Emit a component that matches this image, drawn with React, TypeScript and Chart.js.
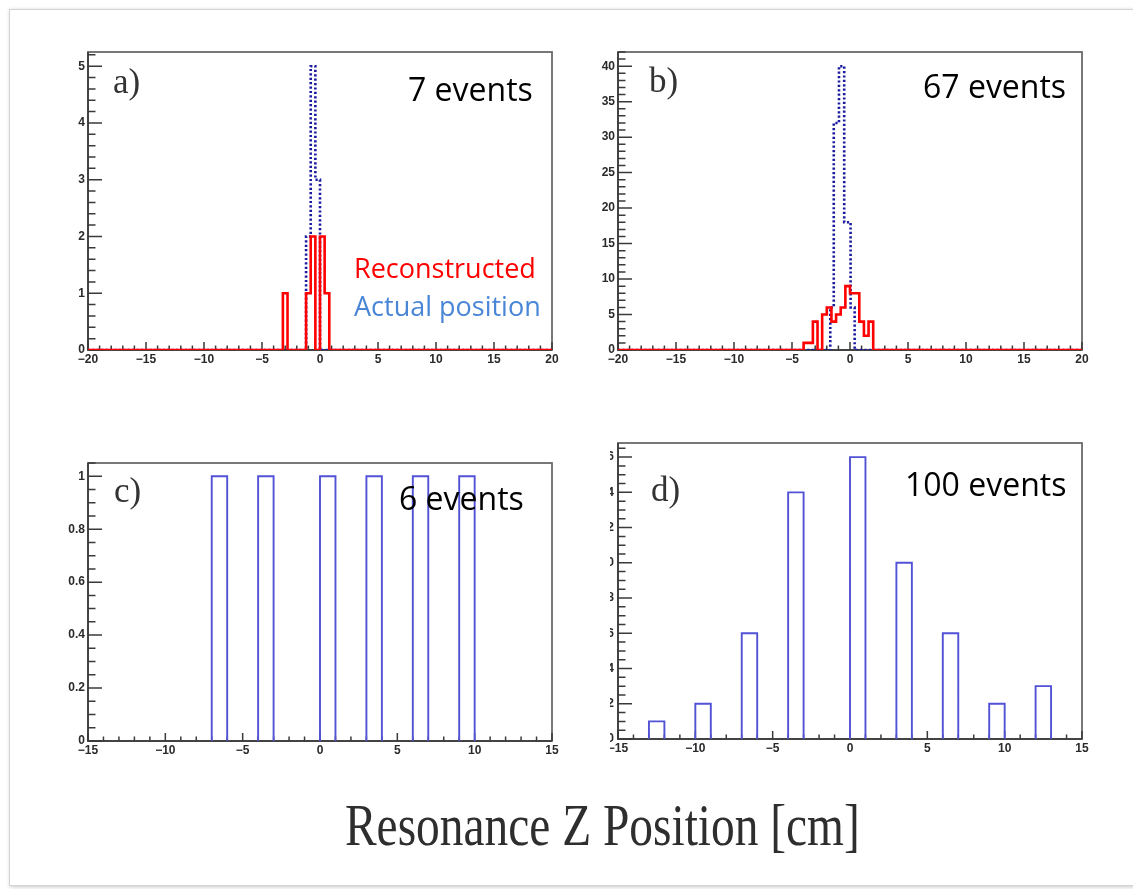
import React, { useEffect, useRef } from 'react';
import { Chart, registerables } from 'chart.js';

Chart.register(...registerables);

// ---------- data ----------
// panel a: reconstructed (red) and actual (blue) positions, bin width 0.4 cm
const redEdgesA = [-3.2, -2.8, -2.4, -2.0, -1.6, -1.2, -0.8, -0.4, 0.0, 0.4, 0.8];
const redCountsA = [1, 0, 0, 0, 0, 1, 2, 0, 2, 1];
const blueEdgesA = [-1.2, -0.8, -0.4, 0.0];
const blueCountsA = [2, 5, 3];

// panel b
const redEdgesB = [-4.0, -3.6, -3.2, -2.8, -2.4, -2.0, -1.6, -1.2, -0.8, -0.4, 0.0, 0.4, 0.8, 1.2, 1.6, 2.0];
const redCountsB = [1, 1, 4, 0, 5, 6, 4, 5, 6, 9, 8, 8, 4, 2, 4];
const blueEdgesB = [-1.7, -1.4, -0.95, -0.5, 0.05, 0.4];
const blueCountsB = [6, 32, 40, 18, 6];

// panel c and d: bin width 1 cm
const binWidthCD = 1;
const binLeftsC = [-7, -4, 0, 3, 6, 9];
const countsC = [1, 1, 1, 1, 1, 1];
const binLeftsD = [-13, -10, -7, -4, 0, 3, 6, 9, 12];
const countsD = [1, 2, 6, 14, 16, 10, 6, 2, 3];

// tick labels
const xTicksAB = [-20, -15, -10, -5, 0, 5, 10, 15, 20];
const xLabelsAB = ['−20', '−15', '−10', '−5', '0', '5', '10', '15', '20'];
const yTicksA = [0, 1, 2, 3, 4, 5];
const yLabelsA = ['0', '1', '2', '3', '4', '5'];
const yTicksB = [0, 5, 10, 15, 20, 25, 30, 35, 40];
const yLabelsB = ['0', '5', '10', '15', '20', '25', '30', '35', '40'];
const xTicksCD = [-15, -10, -5, 0, 5, 10, 15];
const xLabelsCD = ['−15', '−10', '−5', '0', '5', '10', '15'];
const yTicksC = [0, 0.2, 0.4, 0.6, 0.8, 1];
const yLabelsC = ['0', '0.2', '0.4', '0.6', '0.8', '1'];
const yTicksD = [0, 2, 4, 6, 8, 10, 12, 14, 16];
const yLabelsD = ['0', '2', '4', '6', '8', '10', '12', '14', '16'];

// ---------- helpers ----------
function stepOutline(edges: number[], counts: number[], lo: number, hi: number) {
  const pts: { x: number; y: number }[] = [{ x: lo, y: 0 }];
  counts.forEach((c, i) => pts.push({ x: edges[i], y: c }));
  pts.push({ x: edges[edges.length - 1], y: 0 });
  pts.push({ x: hi, y: 0 });
  return pts;
}

function barOutlines(lefts: number[], counts: number[], w: number) {
  const pts: { x: number; y: number | null }[] = [];
  lefts.forEach((l, i) => {
    pts.push({ x: l, y: 0 }, { x: l, y: counts[i] }, { x: l + w, y: counts[i] }, { x: l + w, y: 0 }, { x: l + w, y: null });
  });
  return pts;
}

const rootFrame = {
  id: 'rootFrame',
  beforeDatasetsDraw(chart: any, _args: any, o: any) {
    const { ctx, chartArea: a } = chart;
    const x = chart.scales.x;
    const y = chart.scales.y;
    ctx.save();
    ctx.lineWidth = 1.8;
    ctx.strokeStyle = '#6a6a6a';
    ctx.strokeRect(a.left, a.top, a.right - a.left, a.bottom - a.top);
    ctx.strokeStyle = '#333';
    ctx.lineWidth = 1.5;
    ctx.beginPath();
    ctx.moveTo(a.left, a.top);
    ctx.lineTo(a.left, a.bottom);
    ctx.lineTo(a.right, a.bottom);
    ctx.stroke();
    ctx.lineWidth = 1.5;
    ctx.strokeStyle = '#3a3a3a';
    ctx.beginPath();
    const isMajor = (v: number, list: number[]) => list.some((t) => Math.abs(t - v) < 1e-6);
    const nx = Math.round((x.max - x.min) / o.xMinor);
    for (let i = 0; i <= nx; i++) {
      const v = x.min + i * o.xMinor;
      const px = x.getPixelForValue(v);
      const len = isMajor(v, o.xMajor) ? 8 : 4.5;
      ctx.moveTo(px, a.bottom);
      ctx.lineTo(px, a.bottom - len);
    }
    const ny = Math.floor((y.max - y.min) / o.yMinor + 1e-6);
    for (let i = 0; i <= ny; i++) {
      const v = y.min + i * o.yMinor;
      const py = y.getPixelForValue(v);
      const len = isMajor(v, o.yMajor) ? 14 : 7.5;
      ctx.moveTo(a.left, py);
      ctx.lineTo(a.left + len, py);
    }
    ctx.stroke();
    ctx.restore();
  },
};

type PanelCfg = {
  L: number; T: number; R: number; B: number;
  yw: number; pt: number; pr: number; xh: number; yPad: number;
  xMin: number; xMax: number; yMax: number;
  xTicks: number[]; xLabels: string[]; yTicks: number[]; yLabels: string[];
  xMinor: number; yMinor: number;
  datasets: any[];
};

const tickFont = { family: '"Liberation Sans", Arial, sans-serif', size: 12, weight: 'bold' as const };

function Panel({ cfg }: { cfg: PanelCfg }) {
  const ref = useRef<HTMLCanvasElement | null>(null);
  const w = cfg.R - cfg.L + cfg.yw + cfg.pr;
  const h = cfg.B - cfg.T + cfg.pt + cfg.xh;
  useEffect(() => {
    const chart = new Chart(ref.current as HTMLCanvasElement, {
      type: 'line',
      data: { datasets: cfg.datasets },
      options: {
        animation: false,
        responsive: false,
        maintainAspectRatio: false,
        devicePixelRatio: 1,
        events: [],
        layout: { padding: { top: cfg.pt, right: cfg.pr, left: 0, bottom: 0 } },
        elements: { point: { radius: 0 }, line: { tension: 0 } },
        plugins: {
          legend: { display: false },
          tooltip: { enabled: false },
          rootFrame: { xMajor: cfg.xTicks, yMajor: cfg.yTicks, xMinor: cfg.xMinor, yMinor: cfg.yMinor },
        } as any,
        scales: {
          x: {
            type: 'linear',
            min: cfg.xMin,
            max: cfg.xMax,
            grid: { display: false, drawTicks: false },
            border: { display: false },
            afterFit: (s: any) => { s.height = cfg.xh; s.paddingLeft = 0; s.paddingRight = 0; },
            afterBuildTicks: (s: any) => { s.ticks = cfg.xTicks.map((v) => ({ value: v })); },
            ticks: {
              autoSkip: false, maxRotation: 0, minRotation: 0, padding: 2,
              color: '#2a2a2a', font: tickFont,
              callback: (_v: any, i: number) => cfg.xLabels[i],
            },
          },
          y: {
            type: 'linear',
            min: 0,
            max: cfg.yMax,
            grid: { display: false, drawTicks: false },
            border: { display: false },
            afterFit: (s: any) => { s.width = cfg.yw; s.paddingTop = 0; s.paddingBottom = 0; },
            afterBuildTicks: (s: any) => { s.ticks = cfg.yTicks.map((v) => ({ value: v })); },
            ticks: {
              autoSkip: false, padding: cfg.yPad,
              color: '#2a2a2a', font: tickFont,
              callback: (_v: any, i: number) => cfg.yLabels[i],
            },
          },
        },
      },
      plugins: [rootFrame],
    } as any);
    return () => chart.destroy();
  }, []);
  return (
    <canvas
      ref={ref}
      width={w}
      height={h}
      style={{ position: 'absolute', left: cfg.L - cfg.yw, top: cfg.T - cfg.pt, width: w, height: h }}
    />
  );
}

const redStyle = { borderColor: '#ff0000', borderWidth: 2.6, fill: false, stepped: true, borderJoinStyle: 'miter', borderCapStyle: 'butt' };
const blueDotStyle = { borderColor: '#1a1aa0', borderWidth: 2.6, borderDash: [2.2, 2.2], fill: false, stepped: true, borderJoinStyle: 'miter', borderCapStyle: 'butt' };
const barStyle = { borderColor: '#5252d6', borderWidth: 1.9, fill: false, spanGaps: false, borderJoinStyle: 'miter' };

const panelA: PanelCfg = {
  L: 88, T: 52, R: 552, B: 350, yw: 40, pt: 12, pr: 12, xh: 24, yPad: 3,
  xMin: -20, xMax: 20, yMax: 5.25,
  xTicks: xTicksAB, xLabels: xLabelsAB, yTicks: yTicksA, yLabels: yLabelsA,
  xMinor: 1, yMinor: 0.2,
  datasets: [
    { ...redStyle, data: stepOutline(redEdgesA, redCountsA, -20, 20) },
    { ...blueDotStyle, data: stepOutline(blueEdgesA, blueCountsA, -20, 20) },
  ],
};
const panelB: PanelCfg = {
  L: 618, T: 52, R: 1082, B: 350, yw: 40, pt: 12, pr: 12, xh: 24, yPad: 3,
  xMin: -20, xMax: 20, yMax: 42,
  xTicks: xTicksAB, xLabels: xLabelsAB, yTicks: yTicksB, yLabels: yLabelsB,
  xMinor: 1, yMinor: 1,
  datasets: [
    { ...redStyle, data: stepOutline(redEdgesB, redCountsB, -20, 20) },
    { ...blueDotStyle, data: stepOutline(blueEdgesB, blueCountsB, -20, 20) },
  ],
};
const panelC: PanelCfg = {
  L: 88, T: 463, R: 552, B: 741, yw: 40, pt: 12, pr: 12, xh: 24, yPad: 3,
  xMin: -15, xMax: 15, yMax: 1.05,
  xTicks: xTicksCD, xLabels: xLabelsCD, yTicks: yTicksC, yLabels: yLabelsC,
  xMinor: 1, yMinor: 0.05,
  datasets: [{ ...barStyle, data: barOutlines(binLeftsC, countsC, binWidthCD) }],
};
const panelD: PanelCfg = {
  L: 618, T: 443, R: 1082, B: 739, yw: 40, pt: 12, pr: 12, xh: 24, yPad: 4,
  xMin: -15, xMax: 15, yMax: 16.8,
  xTicks: xTicksCD, xLabels: xLabelsCD, yTicks: yTicksD, yLabels: yLabelsD,
  xMinor: 1, yMinor: 0.5,
  datasets: [{ ...barStyle, data: barOutlines(binLeftsD, countsD, binWidthCD) }],
};

const serif = '"Liberation Serif", "Times New Roman", serif';
const sans = '"Open Sans", "Noto Sans", sans-serif';

function Txt({ left, top, size, color, font, children }: any) {
  return (
    <div style={{ position: 'absolute', left, top, fontSize: size, lineHeight: 1, color, fontFamily: font, whiteSpace: 'nowrap' }}>
      {children}
    </div>
  );
}

export default function App() {
  return (
    <div style={{ position: 'absolute', left: 0, top: 0, width: 1133, height: 889, overflow: 'hidden', background: '#fff' }}>
      <div
        style={{
          position: 'absolute', left: 9, top: 9, width: 1140, height: 875,
          border: '1px solid #d4d4d4', boxShadow: '1px 1px 4px rgba(0,0,0,0.22)', background: '#fff',
        }}
      />
      <Panel cfg={panelA} />
      <Panel cfg={panelB} />
      <Panel cfg={panelC} />
      <Panel cfg={panelD} />
      {/* panel d of the figure is cropped on its left edge: mask the cut part */}
      <div style={{ position: 'absolute', left: 566, top: 425, width: 44, height: 330, background: '#fff' }} />

      <Txt left={113} top={64} size={35} color="#333" font={serif}>a)</Txt>
      <Txt left={649} top={63} size={35} color="#333" font={serif}>b)</Txt>
      <Txt left={114} top={473} size={35} color="#333" font={serif}>c)</Txt>
      <Txt left={651} top={472} size={35} color="#333" font={serif}>d)</Txt>

      <Txt left={408} top={73} size={32} color="#000" font={sans}>7 events</Txt>
      <Txt left={923} top={70} size={32} color="#000" font={sans}>67 events</Txt>
      <Txt left={399} top={482} size={32} color="#000" font={sans}>6 events</Txt>
      <Txt left={905} top={468} size={32} color="#000" font={sans}>100 events</Txt>

      <Txt left={354} top={254} size={27} color="#ff0000" font={sans}>Reconstructed</Txt>
      <Txt left={354} top={292} size={27} color="#4a86d6" font={sans}>Actual position</Txt>

      <div
        style={{
          position: 'absolute', left: 345, top: 795, fontSize: 60, lineHeight: 1, color: '#2e2e2e',
          fontFamily: serif, whiteSpace: 'nowrap', transform: 'scaleX(0.79)', transformOrigin: 'left top',
        }}
      >
        Resonance Z Position [cm]
      </div>
    </div>
  );
}
